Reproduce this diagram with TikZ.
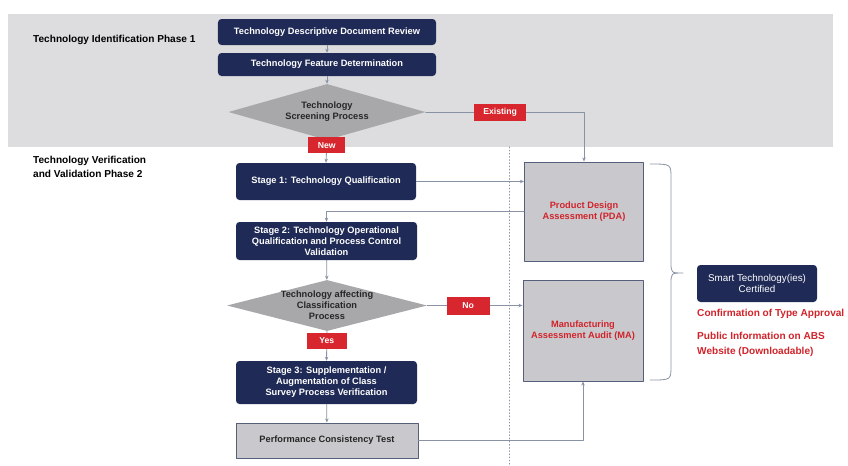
\documentclass[tikz,border=0pt]{standalone}
\usepackage{fontspec}
\setmainfont{Liberation Sans}
\usetikzlibrary{arrows.meta,shapes.geometric}
\definecolor{navybox}{HTML}{1F2A56}
\definecolor{tagred}{HTML}{D7262E}
\definecolor{bandgray}{HTML}{DDDDE0}
\definecolor{diamgray}{HTML}{A8A8AB}
\definecolor{boxgray}{HTML}{C9C9CD}
\definecolor{boxedge}{HTML}{56607A}
\definecolor{linegray}{HTML}{8A93A5}
\definecolor{redtext}{HTML}{D0232A}

\begin{document}
\begin{tikzpicture}[x=0.03cm,y=-0.03cm,line cap=round,line join=round,>={Stealth[length=3.5pt,width=3pt]},
        font=\fontsize{7.9}{9.4}\selectfont\bfseries,
        navy/.style={fill=navybox,rounded corners=3pt,text=white,align=center,inner sep=0pt},
        greybox/.style={draw=boxedge,line width=0.8pt,fill=boxgray,align=center,inner sep=0pt},
        decide/.style={diamond,fill=diamgray,inner sep=0pt},
        tag/.style={fill=tagred,text=white,inner sep=0pt,font=\fontsize{7.4}{8}\selectfont\bfseries},
        conn/.style={draw=linegray,line width=0.7pt},
    ]
    \useasboundingbox (0,0) rectangle (848,465);

    % phase 1 band
    \fill[bandgray] (8,14) rectangle (833,147);
    \draw[linegray,line width=0.7pt,dotted] (509,147) -- (509,465);

    \node[anchor=west,inner sep=0pt,font=\fontsize{8.6}{10}\selectfont\bfseries] (phaseA) at (33,40) {Technology Identification Phase 1};
    \node[anchor=west,inner sep=0pt,align=left,font=\fontsize{8.6}{12}\selectfont\bfseries] (phaseB) at (33,167)
        {Technology Verification\\and Validation Phase 2};

    \node[navy,minimum width=6.54cm,minimum height=0.78cm] (review) at (327,32) {Technology Descriptive Document Review};
    \node[navy,minimum width=6.54cm,minimum height=0.69cm] (feature) at (327,64.5) {Technology Feature Determination};
    \node[decide,minimum width=5.91cm,minimum height=1.68cm] (screen) at (327,112) {};
    \node[align=center,text=black!85] (screentxt) at (screen) {Technology\\Screening Process};

    \node[navy,minimum width=5.4cm,minimum height=1.11cm] (stageA) at (326,181.5) {Stage 1: Technology Qualification};
    \node[navy,minimum width=5.43cm,minimum height=1.14cm] (stageB) at (326.5,241)
        {Stage 2: Technology Operational\\Qualification and Process Control\\Validation};
    \node[decide,minimum width=6cm,minimum height=1.53cm] (affect) at (327,305.5) {};
    \node[align=center,text=black!85] (affecttxt) at (affect) {Technology affecting\\Classification\\Process};
    \node[navy,minimum width=5.43cm,minimum height=1.29cm] (stageC) at (326.5,382.5)
        {Stage 3: Supplementation /\\Augmentation of Class\\Survey Process Verification};
    \node[greybox,minimum width=5.46cm,minimum height=1.05cm,text=black!85] (perf) at (327,440.5) {Performance Consistency Test};

    \node[greybox,minimum width=3.57cm,minimum height=2.97cm,text=redtext] (pda) at (584,211.5) {Product Design\\Assessment (PDA)};
    \node[greybox,minimum width=3.6cm,minimum height=3.03cm,text=redtext] (ma) at (583,330.5) {Manufacturing\\Assessment Audit (MA)};

    \node[navy,minimum width=3.6cm,minimum height=1.11cm,font=\fontsize{8.4}{9.8}\selectfont] (smart) at (757,283.5)
        {Smart Technology(ies)\\Certified};
    \node[anchor=west,inner sep=0pt,text=redtext,font=\fontsize{8.6}{10}\selectfont\bfseries] (typeok) at (697,314)
        {Confirmation of Type Approval};
    \node[anchor=west,inner sep=0pt,align=left,text=redtext,font=\fontsize{8.6}{12.6}\selectfont\bfseries] (public) at (697,344.5)
        {Public Information on ABS\\Website (Downloadable)};

    \draw[conn,->] (review) -- (feature);
    \draw[conn,->] (feature) -- (screen);
    \draw[conn,->] (screen.south) -- (stageA.north)
        node[tag,pos=0.22,minimum width=1.11cm,minimum height=0.48cm] (new) {New};
    \draw[conn,->] (screen.east) -| (pda.north)
        node[tag,pos=0.235,minimum width=1.56cm,minimum height=0.51cm] (existing) {Existing};
    \draw[conn,->] (stageA.east) -- (stageA.east -| pda.west);
    \draw[conn,->] (pda.west) -| (stageB.north);
    \draw[conn,->] (stageB) -- (affect);
    \draw[conn,->] (affect.east) -- (affect.east -| ma.west)
        node[tag,pos=0.43,minimum width=1.29cm,minimum height=0.54cm] (no) {No};
    \draw[conn,->] (affect.south) -- (stageC.north)
        node[tag,pos=0.33,minimum width=1.2cm,minimum height=0.48cm] (yes) {Yes};
    \draw[conn,->] (stageC) -- (perf);
    \draw[conn,->] (perf.east) -| (ma.south);

    % brace round PDA and MA
    \draw[linegray,line width=0.7pt] (650,164) .. controls (671,164) .. (671,178) -- (671,262)
        .. controls (671,273) .. (683,273) .. controls (671,273) .. (671,284) -- (671,366)
        .. controls (671,380) .. (650,380);
\end{tikzpicture}
\end{document}
